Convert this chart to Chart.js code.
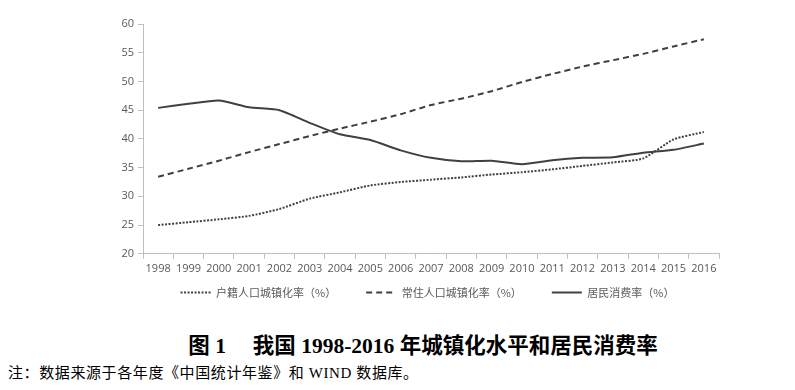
<!DOCTYPE html>
<html>
<head>
<meta charset="utf-8">
<script src="https://cdn.jsdelivr.net/npm/chart.js@4/dist/chart.umd.min.js"></script>
<style>
  body { margin: 0; background: #fff; width: 795px; height: 390px; overflow: hidden; position: relative; }
  #box { position: absolute; left: 0; top: 0; width: 795px; height: 323px; }
  .title { position: absolute; left: 0; width: 846px; top: 328px; text-align: center; font: bold 21.5px "Liberation Serif", "Noto Sans CJK SC", serif; color: #000; white-space: pre; }
  .note { position: absolute; left: 8px; top: 361px; font: 15px "Liberation Serif", "Noto Sans CJK SC", serif; letter-spacing: 0.6px; color: #000; }
</style>
</head>
<body>
<div id="box"><canvas id="grafico"></canvas></div>
<div class="title">图 1　 我国 1998-2016 年城镇化水平和居民消费率</div>
<div class="note">注：数据来源于各年度《中国统计年鉴》和 WIND 数据库。</div>
<script>
const years = ['1998', '1999', '2000', '2001', '2002', '2003', '2004', '2005', '2006', '2007',
               '2008', '2009', '2010', '2011', '2012', '2013', '2014', '2015', '2016'];

// 户籍人口城镇化率
const hukouRate = [25.0, 25.5, 26.0, 26.6, 27.8, 29.6, 30.7, 31.9, 32.5, 32.9,
                   33.3, 33.8, 34.2, 34.7, 35.3, 35.9, 36.6, 39.9, 41.2];
// 常住人口城镇化率
const residentRate = [33.4, 34.8, 36.2, 37.7, 39.1, 40.5, 41.8, 43.0, 44.3, 45.9,
                      47.0, 48.3, 49.9, 51.3, 52.6, 53.7, 54.8, 56.1, 57.35];
// 居民消费率
const consumptionRate = [45.4, 46.1, 46.7, 45.5, 45.0, 42.8, 40.8, 39.8, 38.0, 36.7,
                         36.1, 36.2, 35.6, 36.3, 36.7, 36.8, 37.6, 38.1, 39.2];

const yTicks = [20, 25, 30, 35, 40, 45, 50, 55, 60];

const lineColor = '#404040';
const axisColor = '#bfbfbf';
const textColor = '#595959';

// legend sits closer to the axis (and more to the right) than chart.js would put it
const legendMove = {
    id: 'legendMove',
    afterLayout(chart) {
        const lg = chart.legend;
        lg.top -= 21;
        lg.bottom -= 21;
        lg.left += 68;
        lg.right += 68;
    }
};

const ctx = document.getElementById('grafico').getContext('2d');
new Chart(ctx, {
    type: 'line',
    data: {
        labels: years,
        datasets: [
            {
                label: '户籍人口城镇化率（%）',
                data: hukouRate,
                borderColor: lineColor,
                backgroundColor: lineColor,
                borderWidth: 2,
                borderDash: [2, 1.5],
                pointRadius: 0,
                tension: 0.2
            },
            {
                label: '常住人口城镇化率（%）',
                data: residentRate,
                borderColor: lineColor,
                backgroundColor: lineColor,
                borderWidth: 2,
                borderDash: [6, 4],
                pointRadius: 0,
                tension: 0.2
            },
            {
                label: '居民消费率（%）',
                data: consumptionRate,
                borderColor: lineColor,
                backgroundColor: lineColor,
                borderWidth: 2,
                pointRadius: 0,
                tension: 0.2
            }
        ]
    },
    plugins: [legendMove],
    options: {
        responsive: true,
        maintainAspectRatio: false,
        animation: false,
        layout: { padding: { left: 0, right: 76, top: 24, bottom: 0 } },
        plugins: {
            legend: {
                position: 'bottom',
                maxHeight: 45,
                labels: {
                    usePointStyle: true,
                    pointStyle: 'line',
                    pointStyleWidth: 30,
                    boxWidth: 30,
                    boxHeight: 2,
                    padding: 30,
                    color: textColor,
                    font: { family: '"Noto Sans CJK SC", sans-serif', size: 11 },
                    // legend lines keep the dash of their dataset
                    generateLabels: chart => {
                        const items = Chart.defaults.plugins.legend.labels.generateLabels(chart);
                        items.forEach(it => {
                            const ds = chart.data.datasets[it.datasetIndex];
                            it.lineDash = ds.borderDash || [];
                            it.lineWidth = 2;
                            it.strokeStyle = lineColor;
                        });
                        return items;
                    }
                }
            },
            tooltip: { enabled: false }
        },
        scales: {
            x: {
                offset: true,
                grid: { display: true, offset: true, drawOnChartArea: false, drawTicks: true, tickLength: 5, color: axisColor },
                border: { display: true, color: axisColor },
                ticks: { color: textColor, padding: 3, maxRotation: 0, font: { family: '"Open Sans", sans-serif', size: 11 } }
            },
            y: {
                min: 20,
                max: 60,
                afterFit: scale => { scale.width = 143; },
                afterBuildTicks: scale => { scale.ticks = yTicks.map(v => ({ value: v })); },
                grid: { display: true, drawOnChartArea: false, drawTicks: true, tickLength: 5, color: axisColor },
                border: { display: true, color: axisColor },
                ticks: { color: textColor, padding: 4, font: { family: '"Open Sans", sans-serif', size: 11 } }
            }
        }
    }
});
</script>
</body>
</html>
